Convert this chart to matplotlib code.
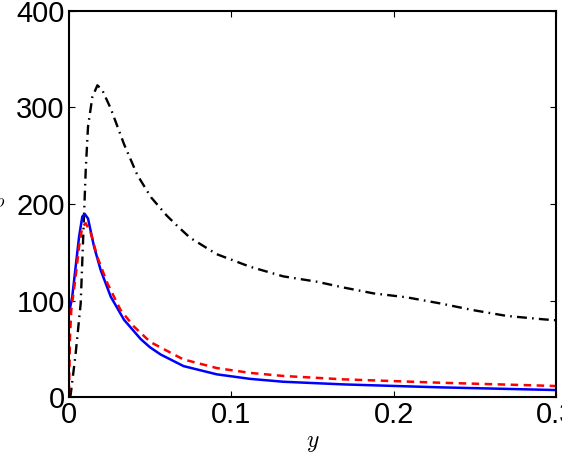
import matplotlib
matplotlib.use("Agg")
import matplotlib.pyplot as plt
import numpy as np

plt.rcParams['mathtext.fontset'] = 'cm'
plt.rcParams['font.family'] = ['Liberation Sans', 'DejaVu Sans']

# Black dash-dot curve
y_black = [0.0, 0.001, 0.0041, 0.0072, 0.0086, 0.0103, 0.0117, 0.0144, 0.0175, 0.0205,
           0.0257, 0.0339, 0.0421, 0.0505, 0.0602, 0.0675, 0.0746, 0.091, 0.1115, 0.132,
           0.1526, 0.169, 0.1875, 0.208, 0.2286, 0.249, 0.2697, 0.2922, 0.3]
v_black = [0.0, 2.0, 45.0, 97.0, 159.0, 235.0, 280.0, 311.0, 323.0, 318.0,
           299.0, 262.0, 230.0, 207.0, 188.0, 176.0, 165.0, 148.0, 135.0, 125.0,
           119.5, 113.5, 107.4, 103.3, 97.0, 90.0, 84.0, 80.5, 79.5]

# Blue solid curve
y_blue = [0.0, 0.002, 0.0041, 0.0062, 0.0082, 0.0097, 0.0117, 0.0154, 0.0195, 0.0257,
          0.0339, 0.0442, 0.0499, 0.0565, 0.0706, 0.091, 0.1115, 0.132, 0.17, 0.2286, 0.3]
v_blue = [86.7, 104.0, 135.0, 166.0, 187.0, 189.6, 185.0, 156.0, 131.6, 104.0,
          80.0, 60.0, 51.5, 44.0, 32.0, 23.5, 18.8, 15.8, 13.0, 10.0, 7.2]

# Red dashed curve
y_red = [0.0, 0.0006, 0.0014, 0.0041, 0.0062, 0.0082, 0.0103, 0.0134, 0.0175, 0.0236,
         0.0318, 0.04, 0.0501, 0.0647, 0.0704, 0.091, 0.1115, 0.132, 0.169, 0.2286, 0.3]
v_red = [4.0, 62.0, 90.0, 125.0, 156.0, 176.5, 180.0, 170.0, 145.0, 118.0,
         90.0, 73.0, 57.0, 44.0, 39.0, 30.0, 25.0, 21.8, 18.3, 14.8, 11.4]

xticks = [0, 0.1, 0.2, 0.3]
xticklabels = ['0', '0.1', '0.2', '0.3']
yticks = [0, 100, 200, 300, 400]
yticklabels = ['0', '100', '200', '300', '400']

fig = plt.figure(figsize=(5.62, 4.74), dpi=100)
ax = fig.add_axes([69/562, 1-397/474, (556-69)/562, (397-11)/474])

ax.plot(y_black, v_black, color='black', linestyle=(0, (4.2, 2.2, 0.7, 2.2)), linewidth=1.7)
ax.plot(y_blue, v_blue, color='#0000ff', linestyle='-', linewidth=1.8)
ax.plot(y_red, v_red, color='#ff0000', linestyle=(0, (3.0, 2.2)), linewidth=1.8)

ax.set_xlim(0, 0.3)
ax.set_ylim(0, 400)
ax.set_xticks(xticks)
ax.set_xticklabels(xticklabels)
ax.set_yticks(yticks)
ax.set_yticklabels(yticklabels)
ax.tick_params(direction='in', top=True, right=True, labelsize=21, length=4, width=0.8, pad=3)
for s in ax.spines.values():
    s.set_linewidth(1.5)

ax.set_xlabel(r'$y$', fontsize=17, labelpad=2)
fig.text(0.0, 1-203/474, r'$\rho$', fontsize=13, ha='center', va='center')

fig.savefig('out.png', dpi=100)
